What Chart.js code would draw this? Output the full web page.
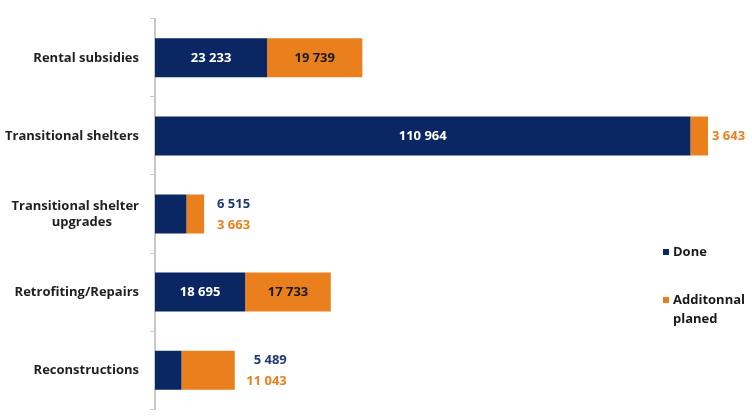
<!DOCTYPE html>
<html>
<head>
<meta charset="utf-8">
<script src="https://cdn.jsdelivr.net/npm/chart.js@4.4.0/dist/chart.umd.min.js"></script>
<style>
  html, body { margin: 0; padding: 0; overflow: hidden; background: #fff; }
  #wrap { position: relative; width: 752px; height: 428px; }
</style>
</head>
<body>
<div id="wrap"><canvas id="mycanvas"></canvas></div>
<script>
var categories = ['Rental subsidies', 'Transitional shelters', ['Transitional shelter', 'upgrades        '], 'Retrofiting/Repairs', 'Reconstructions'];
var done = [23233, 110964, 6515, 18695, 5489];
var additional = [19739, 3643, 3663, 17733, 11043];
var seriesNames = ['Done', ['Additonnal', 'planed']];

var navy = '#0a2764';
var orange = '#e97f1d';
var family = '"Open Sans", Lato, sans-serif';
var font = 'bold 13px ' + family;

function fmt(v) {
  return String(v).replace(/\B(?=(\d{3})+(?!\d))/g, ' ');
}

// value labels: inside the segment if it is wide enough, else right of the bar
var valueLabels = {
  id: 'valueLabels',
  afterDatasetsDraw: function(chart) {
    var ctx = chart.ctx;
    var m0 = chart.getDatasetMeta(0);
    var m1 = chart.getDatasetMeta(1);
    ctx.save();
    ctx.font = font;
    ctx.textBaseline = 'middle';
    for (var i = 0; i < categories.length; i++) {
      var a = m0.data[i], b = m1.data[i];
      var wa = a.x - a.base, wb = b.x - b.base;
      if (wa > 50 && wb > 50) {
        ctx.textAlign = 'center';
        ctx.fillStyle = '#ffffff';
        ctx.fillText(fmt(done[i]), (a.x + a.base) / 2, a.y);
        ctx.fillStyle = '#1a1a1a';
        ctx.fillText(fmt(additional[i]), (b.x + b.base) / 2, b.y);
      } else if (wa > 50) {
        ctx.textAlign = 'center';
        ctx.fillStyle = '#ffffff';
        ctx.fillText(fmt(done[i]), (a.x + a.base) / 2, a.y);
        ctx.textAlign = 'left';
        ctx.fillStyle = orange;
        ctx.fillText(fmt(additional[i]), b.x + 4, b.y);
      } else {
        ctx.textAlign = 'right';
        ctx.fillStyle = '#1f3a7a';
        ctx.fillText(fmt(done[i]), b.x + 46 + (i === 4 ? 6 : 0), a.y - 10);
        ctx.fillStyle = orange;
        ctx.fillText(fmt(additional[i]), b.x + 46 + (i === 4 ? 6 : 0), b.y + 11);
      }
    }
    ctx.restore();
  }
};

var sideLegend = {
  id: 'sideLegend',
  afterDraw: function(chart) {
    var ctx = chart.ctx;
    var colors = [navy, orange];
    var ys = [252, 300];
    ctx.save();
    ctx.font = font;
    ctx.textAlign = 'left';
    ctx.textBaseline = 'middle';
    for (var i = 0; i < seriesNames.length; i++) {
      ctx.fillStyle = colors[i];
      ctx.fillRect(663, ys[i] - 3, 6, 6);
      ctx.fillStyle = '#1a1a1a';
      var lines = [].concat(seriesNames[i]);
      for (var j = 0; j < lines.length; j++) {
        ctx.fillText(lines[j], 673, ys[i] + j * 19);
      }
    }
    ctx.restore();
  }
};

var chartdata = {
  labels: categories,
  datasets: [
    { label: 'Done', data: done, backgroundColor: navy },
    { label: 'Additonnal planed', data: additional, backgroundColor: orange }
  ]
};

var ctx = document.getElementById('mycanvas');
var barGraph = new Chart(ctx, {
  type: 'bar',
  data: chartdata,
  plugins: [valueLabels, sideLegend],
  options: {
    indexAxis: 'y',
    responsive: true,
    maintainAspectRatio: false,
    animation: false,
    layout: { padding: { top: 15, right: 18, bottom: 0, left: 0 } },
    datasets: { bar: { categoryPercentage: 1, barPercentage: 0.5 } },
    plugins: { legend: { display: false }, tooltip: { enabled: false } },
    scales: {
      x: { stacked: true, min: 0, max: 120000, display: false },
      y: {
        stacked: true,
        afterFit: function(scale) { scale.width = 155; },
        border: { display: true, color: '#c8c8c8', width: 2 },
        grid: { offset: true, drawOnChartArea: false, tickLength: 5, color: '#c8c8c8' },
        ticks: { padding: 11, color: '#1f1f1f', font: { family: family, size: 13, weight: 'bold' } }
      }
    }
  }
});
</script>
</body>
</html>
